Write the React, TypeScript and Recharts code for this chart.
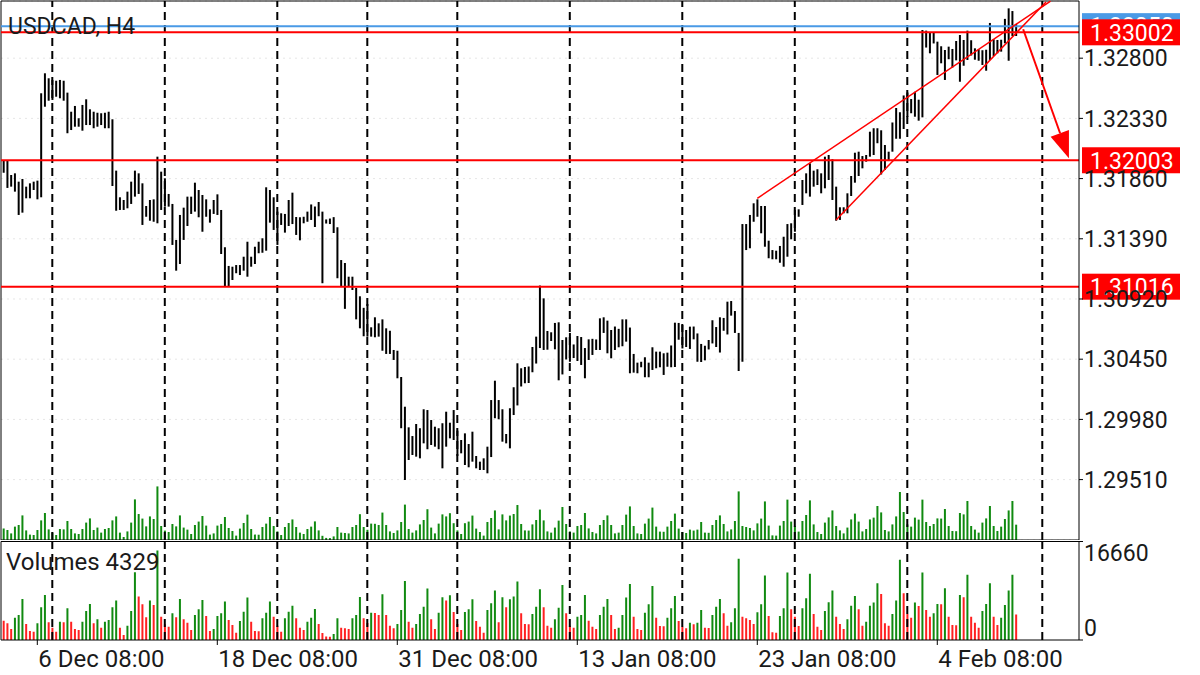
import {
  Bar,
  CartesianGrid,
  Cell,
  ComposedChart,
  ReferenceDot,
  ReferenceLine,
  XAxis,
  YAxis,
} from "recharts";

// H4 bars, oldest first
const highs = [
  1.32005, 1.32005, 1.31888, 1.31901, 1.31836, 1.31857, 1.31797, 1.31823, 1.31836, 1.31844,
  1.32526, 1.32682, 1.32643, 1.3263, 1.32624, 1.3263, 1.32624, 1.32531, 1.32382, 1.32427,
  1.32331, 1.32435, 1.32479, 1.32401, 1.32382, 1.32374, 1.3237, 1.32374, 1.32382, 1.32323,
  1.31922, 1.31714, 1.31693, 1.31758, 1.31836, 1.31922, 1.31901, 1.31823, 1.31646, 1.31693,
  1.31698, 1.32031, 1.31914, 1.31862, 1.3174, 1.31662, 1.31381, 1.31576, 1.31633, 1.31719,
  1.31719, 1.31828, 1.31771, 1.31732, 1.31698, 1.3162, 1.31693, 1.31737, 1.31615, 1.31324,
  1.31178, 1.31172, 1.31185, 1.31185, 1.3125, 1.31367, 1.3125, 1.31328, 1.31367, 1.31394,
  1.31792, 1.31771, 1.31714, 1.31602, 1.31589, 1.31584, 1.31693, 1.3175, 1.3156, 1.31558,
  1.31562, 1.31602, 1.31658, 1.31642, 1.31677, 1.31602, 1.31541, 1.31548, 1.31559, 1.3148,
  1.31224, 1.31201, 1.31094, 1.31094, 1.31006, 1.30941, 1.30851, 1.30881, 1.30699, 1.30777,
  1.3073, 1.30761, 1.30691, 1.30672, 1.30522, 1.30516, 1.30311, 1.30079, 1.29918, 1.2985,
  1.29944, 1.29911, 1.30059, 1.30053, 1.29975, 1.29923, 1.29911, 1.2995, 1.3004, 1.29954,
  1.30053, 1.29892, 1.29819, 1.29871, 1.29788, 1.29884, 1.29694, 1.2965, 1.29676, 1.29767,
  1.30131, 1.30282, 1.30131, 1.30059, 1.29866, 1.30067, 1.30231, 1.30418, 1.30379, 1.30389,
  1.30393, 1.30545, 1.30626, 1.31025, 1.30925, 1.3067, 1.3066, 1.30733, 1.30738, 1.306,
  1.30621, 1.30655, 1.30565, 1.30631, 1.30623, 1.30537, 1.30605, 1.30609, 1.30604, 1.30769,
  1.30777, 1.30751, 1.30678, 1.30705, 1.30687, 1.30761, 1.30761, 1.30697, 1.30491, 1.30423,
  1.3043, 1.30465, 1.30423, 1.30543, 1.30509, 1.30509, 1.30496, 1.30501, 1.30557, 1.30735,
  1.30733, 1.30717, 1.30678, 1.30704, 1.30705, 1.30651, 1.30569, 1.30555, 1.306, 1.30754,
  1.30701, 1.30777, 1.30772, 1.30899, 1.30904, 1.30826, 1.30655, 1.31505, 1.31505, 1.31576,
  1.31667, 1.31698, 1.31646, 1.31646, 1.31375, 1.31302, 1.31297, 1.31334, 1.31406, 1.31505,
  1.31511, 1.31615, 1.3162, 1.31849, 1.31901, 1.31979, 1.31922, 1.31933, 1.31901, 1.32031,
  1.32044, 1.32011, 1.31797, 1.31636, 1.31636, 1.31745, 1.3188, 1.32062, 1.3207, 1.32036,
  1.32044, 1.32226, 1.32253, 1.32253, 1.32237, 1.32122, 1.3207, 1.32298, 1.32411, 1.32378,
  1.32509, 1.32532, 1.32481, 1.32538, 1.32476, 1.3302, 1.33015, 1.32999, 1.32997, 1.32929,
  1.32893, 1.32864, 1.3289, 1.32872, 1.32934, 1.32981, 1.32942, 1.33015, 1.3294, 1.32877,
  1.32869, 1.32862, 1.32866, 1.33075, 1.32947, 1.32942, 1.32944, 1.33107, 1.33189, 1.33168,
  1.33067,
];

const lows = [
  1.31906, 1.31787, 1.31797, 1.31758, 1.31576, 1.31594, 1.31706, 1.31706, 1.31771, 1.31698,
  1.31714, 1.32421, 1.32468, 1.32474, 1.32499, 1.32487, 1.32468, 1.32214, 1.32239, 1.32265,
  1.32265, 1.32234, 1.32278, 1.32278, 1.32253, 1.32265, 1.32278, 1.32253, 1.32253, 1.31802,
  1.31609, 1.31615, 1.31615, 1.31628, 1.31662, 1.31719, 1.3174, 1.31498, 1.31562, 1.31531,
  1.31523, 1.31511, 1.31615, 1.31641, 1.31641, 1.31342, 1.31141, 1.31193, 1.31381, 1.3149,
  1.31584, 1.31602, 1.31558, 1.31445, 1.31562, 1.31516, 1.31584, 1.31576, 1.31271, 1.31016,
  1.31021, 1.31068, 1.31121, 1.31107, 1.31141, 1.31094, 1.31172, 1.31193, 1.31277, 1.31281,
  1.31297, 1.31516, 1.31459, 1.31342, 1.31498, 1.31438, 1.3149, 1.31505, 1.3142, 1.31378,
  1.31511, 1.31523, 1.31537, 1.31482, 1.31566, 1.31043, 1.31509, 1.31505, 1.31435, 1.31082,
  1.31018, 1.30843, 1.31016, 1.3099, 1.30761, 1.30691, 1.30629, 1.30626, 1.30626, 1.30621,
  1.30626, 1.30516, 1.30491, 1.30491, 1.30444, 1.30301, 1.29911, 1.29507, 1.29663, 1.29702,
  1.29689, 1.29676, 1.29793, 1.29747, 1.2978, 1.29767, 1.29747, 1.29598, 1.29767, 1.29832,
  1.29819, 1.29694, 1.29715, 1.29624, 1.29606, 1.2965, 1.29598, 1.29585, 1.29585, 1.29559,
  1.29686, 1.29989, 1.29981, 1.29806, 1.29793, 1.29754, 1.30014, 1.30089, 1.30237, 1.30262,
  1.30264, 1.30348, 1.30416, 1.30537, 1.30522, 1.30524, 1.30592, 1.30527, 1.30285, 1.30331,
  1.30448, 1.3043, 1.30459, 1.30436, 1.30405, 1.30301, 1.30444, 1.30483, 1.30522, 1.30522,
  1.30655, 1.30496, 1.30457, 1.30522, 1.30543, 1.30551, 1.30587, 1.3034, 1.30345, 1.3034,
  1.30387, 1.30309, 1.30309, 1.30366, 1.30379, 1.30387, 1.30327, 1.30391, 1.30387, 1.30389,
  1.30602, 1.30534, 1.30545, 1.3053, 1.30605, 1.3043, 1.30428, 1.30441, 1.30526, 1.30573,
  1.30545, 1.30502, 1.30672, 1.30643, 1.3079, 1.30655, 1.30358, 1.3043, 1.31302, 1.31316,
  1.31523, 1.31562, 1.31433, 1.31328, 1.31238, 1.3123, 1.3123, 1.31203, 1.31172, 1.3125,
  1.31386, 1.31445, 1.31562, 1.31654, 1.31745, 1.31719, 1.31797, 1.3181, 1.31745, 1.31784,
  1.31849, 1.31693, 1.31531, 1.31537, 1.31589, 1.31589, 1.31724, 1.31828, 1.3188, 1.3194,
  1.31992, 1.32031, 1.32044, 1.32136, 1.31892, 1.31927, 1.31997, 1.3207, 1.32171, 1.32171,
  1.32247, 1.32341, 1.3237, 1.32343, 1.32312, 1.32338, 1.32883, 1.32838, 1.32915, 1.32669,
  1.3276, 1.3263, 1.32792, 1.32727, 1.32783, 1.32616, 1.32741, 1.32786, 1.32821, 1.32788,
  1.3278, 1.32747, 1.32702, 1.32786, 1.32817, 1.32838, 1.32851, 1.32916, 1.3278, 1.32973,
  1.32973,
];

const volumes = [
  3271, 2830, 1864, 3779, 4237, 6949, 2712, 1525, 1407, 2830,
  5542, 7627, 3000, 2085, 1407, 3102, 3000, 5373, 3102, 1864,
  1695, 3102, 4915, 6101, 2830, 3508, 2085, 3102, 3390, 5542,
  6661, 2085, 847, 2424, 4915, 11474, 7338, 6050, 3847, 6661,
  5932, 15135, 3949, 2661, 2254, 4525, 3847, 6949, 3508, 2932,
  1695, 4237, 5203, 6779, 4068, 1525, 1864, 4068, 4525, 6491,
  3390, 2542, 1237, 3220, 4796, 7169, 3102, 1525, 1491, 3678,
  4627, 6491, 3949, 2424, 1407, 3678, 4796, 5813, 3678, 2085,
  1695, 3102, 3779, 5254, 2712, 1186, 593, 542, 1017, 3678,
  2085, 1983, 1864, 3678, 4237, 7288, 3678, 2881, 4627, 4576,
  4237, 7745, 4237, 2424, 1983, 2712, 5084, 9999, 3102, 2085,
  2712, 4406, 5644, 8694, 3508, 1864, 4627, 7237, 6661, 7576,
  4745, 2712, 1695, 4745, 5203, 6898, 3220, 2254, 1237, 5084,
  6220, 8355, 3000, 7237, 5542, 6898, 7338, 9881, 4525, 2712,
  2661, 4406, 5644, 8593, 5542, 2424, 2085, 3508, 5474, 9321,
  4525, 2424, 2085, 3949, 4237, 7627, 3271, 2254, 1864, 4237,
  5644, 6949, 4237, 1864, 2085, 4237, 7169, 9491, 3949, 1864,
  1695, 4627, 6050, 9152, 3779, 2373, 2322, 3779, 5373, 7457,
  3220, 2254, 1983, 2932, 2661, 2932, 5084, 2085, 2034, 4237,
  5644, 6949, 4525, 2424, 3000, 5373, 13728, 3949, 3678, 3390,
  2712, 4695, 6050, 10898, 4068, 1305, 1237, 4068, 5373, 11406,
  5203, 3949, 2373, 5373, 7067, 11186, 4406, 2254, 1695, 4915,
  6389, 8355, 3949, 2712, 1864, 3508, 5813, 7457, 5203, 2424,
  3102, 5813, 6322, 9610, 7796, 2830, 2424, 4406, 6661, 13558,
  7915, 4406, 3779, 6322, 5762, 11406, 5084, 3949, 4525, 6101,
  6050, 8762, 3949, 2542, 2491, 7627, 7237, 11016, 3949, 2932,
  2085, 4915, 6101, 9610, 3949, 2542, 3779, 5932, 8355, 11016,
  4329,
];

const priceTicks = [1.2951, 1.2998, 1.3045, 1.3092, 1.3139, 1.3186, 1.3233, 1.328];
const volumeTicks = [0, 16660];
const dateTicks = [9, 57, 105, 153, 201, 249];
const dateLabels = ["6 Dec 08:00", "18 Dec 08:00", "31 Dec 08:00", "13 Jan 08:00", "23 Jan 08:00", "4 Feb 08:00"];
const weekStarts = [13, 43, 73, 97, 121, 151, 181, 211, 241, 277];
const levels = [1.33002, 1.32003, 1.31016];
const bid = 1.3305;
const upperTrend = [{ x: 201, y: 1.31706 }, { x: 279.2, y: 1.33246 }];
const lowerTrend = [{ x: 222, y: 1.31537 }, { x: 278, y: 1.33239 }];
const arrowLine = [{ x: 271.9, y: 1.33026 }, { x: 281.75, y: 1.32214 }];
const arrowTip = { x: 284.1, y: 1.32018 };

const barDomain: [number, number] = [-0.68, 286.79];
const priceDomain: [number, number] = [1.290384, 1.332464];

const GREEN = "#108a10";
const RED = "#ff2020";
const INK = "#1a1a1a";

const data = highs.map((h, i) => ({
  i,
  range: [lows[i], h],
  vol: volumes[i],
  up: i > 0 && volumes[i] > volumes[i - 1],
}));

function PriceTag(props: any) {
  const { viewBox, text, fill } = props;
  if (!viewBox) return null;
  const x = viewBox.x + viewBox.width + 3;
  const y = viewBox.y;
  return (
    <g>
      <rect x={x} y={y - 13} width={98} height={26} fill={fill} />
      <text x={x + 8} y={y} dy="0.36em" fontSize={23} fill="#fff">
        {text}
      </text>
    </g>
  );
}

function DateTick(props: any) {
  const { x, y, payload } = props;
  const k = dateTicks.indexOf(payload.value);
  return (
    <text x={x + 1} y={y} dy="0.71em" fontSize={24} fill={INK} textAnchor="start">
      {dateLabels[k]}
    </text>
  );
}

function VolTick(props: any) {
  const { x, y, payload } = props;
  const dy = payload.value > 0 ? 11.5 : -12;
  return (
    <text x={x} y={y + dy} dy="0.36em" fontSize={23} fill={INK} textAnchor="start">
      {payload.value}
    </text>
  );
}

function ArrowHead(props: any) {
  const { cx, cy } = props;
  if (cx == null || cy == null) return null;
  return <polygon points={`${cx},${cy} ${cx - 18.3},${cy - 21.6} ${cx},${cy - 28.3}`} fill="#ff0000" />;
}

function MainChart() {
  return (
    <ComposedChart width={1200} height={540} data={data} margin={{ top: 1, right: 0, bottom: 0, left: 1 }}>
      <XAxis xAxisId="a" dataKey="i" type="number" domain={barDomain} allowDataOverflow hide />
      <XAxis xAxisId="b" dataKey="i" type="number" domain={barDomain} allowDataOverflow hide />
      <YAxis
        yAxisId="p"
        orientation="right"
        width={121}
        domain={priceDomain}
        allowDataOverflow
        ticks={priceTicks}
        interval={0}
        tickFormatter={(v: number) => v.toFixed(5)}
        tick={{ fontSize: 23, fill: INK }}
        tickSize={4}
        tickMargin={1}
        axisLine={{ stroke: "#000" }}
        tickLine={{ stroke: "#000" }}
      />
      <YAxis yAxisId="v" hide domain={[0, 152250]} allowDataOverflow />
      <CartesianGrid xAxisId="a" yAxisId="p" vertical={false} stroke="#e6e6e6" strokeDasharray="2 4" />
      <Bar xAxisId="b" yAxisId="v" dataKey="vol" barSize={2} fill={GREEN} isAnimationActive={false} />
      <Bar xAxisId="a" yAxisId="p" dataKey="range" barSize={2} fill="#000" isAnimationActive={false} />
      {weekStarts.map((w) => (
        <ReferenceLine key={w} xAxisId="a" yAxisId="p" x={w} stroke="#000" strokeWidth={2} strokeDasharray="8 5" />
      ))}
      <ReferenceLine xAxisId="a" yAxisId="p" x={barDomain[0]} stroke="#000" />
      <ReferenceLine xAxisId="a" yAxisId="p" y={priceDomain[1]} stroke="#000" />
      <ReferenceLine xAxisId="a" yAxisId="p" y={priceDomain[0]} stroke="#000" />
      <ReferenceLine
        xAxisId="a"
        yAxisId="p"
        y={bid}
        stroke="#4a9ae6"
        strokeWidth={2}
        label={<PriceTag text={bid.toFixed(5)} fill="#4a9ae6" />}
      />
      {levels.map((l) => (
        <ReferenceLine
          key={l}
          xAxisId="a"
          yAxisId="p"
          y={l}
          stroke="#ff0000"
          strokeWidth={2}
          label={<PriceTag text={l.toFixed(5)} fill="#ff0000" />}
        />
      ))}
      <ReferenceLine xAxisId="a" yAxisId="p" segment={upperTrend} stroke="#ff0000" strokeWidth={1.5} ifOverflow="visible" />
      <ReferenceLine xAxisId="a" yAxisId="p" segment={lowerTrend} stroke="#ff0000" strokeWidth={1.5} ifOverflow="visible" />
      <ReferenceLine xAxisId="a" yAxisId="p" segment={arrowLine} stroke="#ff0000" strokeWidth={2} ifOverflow="visible" />
      <ReferenceDot xAxisId="a" yAxisId="p" x={arrowTip.x} y={arrowTip.y} shape={<ArrowHead />} ifOverflow="visible" />
    </ComposedChart>
  );
}

function VolumeChart() {
  return (
    <ComposedChart width={1200} height={135} data={data} margin={{ top: 1.5, right: 0, bottom: 0, left: 1 }}>
      <XAxis
        xAxisId="a"
        dataKey="i"
        type="number"
        domain={barDomain}
        allowDataOverflow
        ticks={dateTicks}
        interval={0}
        height={35}
        tickSize={5}
        tickMargin={5}
        axisLine={{ stroke: "#000" }}
        tickLine={{ stroke: "#000" }}
        tick={<DateTick />}
      />
      <YAxis
        yAxisId="v"
        orientation="right"
        width={121}
        domain={[0, 16660]}
        allowDataOverflow
        ticks={volumeTicks}
        interval={0}
        tickSize={4}
        tickMargin={1}
        axisLine={{ stroke: "#000" }}
        tickLine={{ stroke: "#000" }}
        tick={<VolTick />}
      />
      <Bar xAxisId="a" yAxisId="v" dataKey="vol" barSize={2} isAnimationActive={false}>
        {data.map((d) => (
          <Cell key={d.i} fill={d.up ? GREEN : RED} />
        ))}
      </Bar>
      {weekStarts.map((w) => (
        <ReferenceLine key={w} xAxisId="a" yAxisId="v" x={w} stroke="#000" strokeWidth={2} strokeDasharray="8 5" />
      ))}
      <ReferenceLine xAxisId="a" yAxisId="v" x={barDomain[0]} stroke="#000" />
      <ReferenceLine xAxisId="a" yAxisId="v" y={16660} stroke="#000" />
    </ComposedChart>
  );
}

export default function App() {
  return (
    <div
      style={{
        position: "absolute",
        left: 0,
        top: 0,
        width: 1200,
        height: 675,
        background: "#fff",
        fontFamily: "Roboto, sans-serif",
        overflow: "hidden",
      }}
    >
      <MainChart />
      <VolumeChart />
      <div style={{ position: "absolute", left: 8, top: 14.6, fontSize: 23, lineHeight: "23px", color: INK }}>
        USDCAD, H4
      </div>
      <div style={{ position: "absolute", left: 6, top: 550, fontSize: 24, lineHeight: "24px", color: INK }}>
        {`Volumes ${volumes[volumes.length - 1]}`}
      </div>
    </div>
  );
}
